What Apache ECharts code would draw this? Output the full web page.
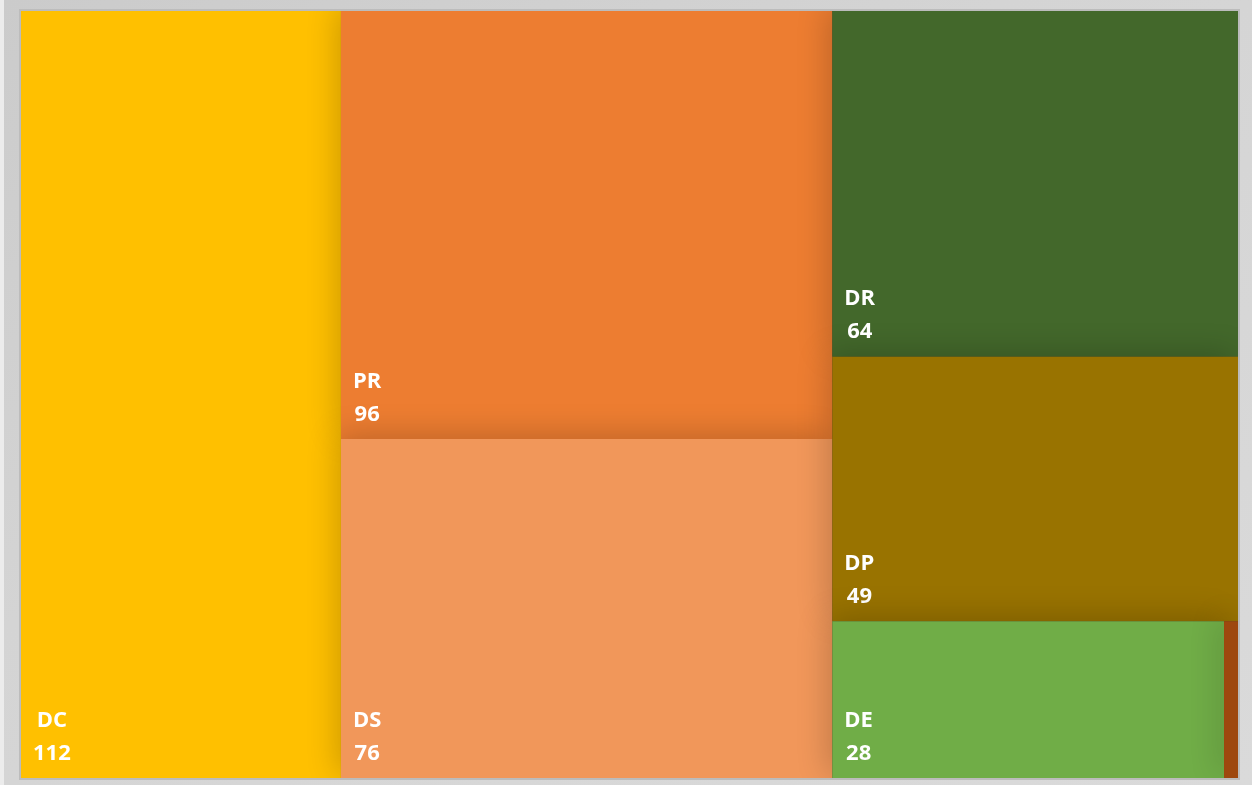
<!DOCTYPE html>
<html>
<head>
<meta charset="utf-8">
<script src="https://cdn.jsdelivr.net/npm/echarts@6/dist/echarts.min.js"></script>
<style>
  html, body { margin: 0; padding: 0; width: 1252px; height: 785px; overflow: hidden; background: #ececec; }
  #frame { position: absolute; left: 4px; top: 0; width: 1248px; height: 785px;
    background: linear-gradient(to bottom right, #cbcbcb, #d4d4d4 40%, #dadada); }
  #chart { position: absolute; left: 21px; top: 11px; width: 1217px; height: 767px;
    box-shadow: 0 0 0 2px #bcbcbc; background: #5a4a30; }
</style>
</head>
<body>
<div id="frame"></div>
<div id="chart"></div>
<script>
// Data
const names  = ['DC', 'PR', 'DS', 'DR', 'DP', 'DE', ''];
const values = [112, 96, 76, 64, 49, 28, 1];
const colors = ['#FFC000', '#ED7D31', '#F1975A', '#43682B', '#997300', '#70AD47', '#9E480E'];
// grouping of leaf indices into nested blocks (as in the original layout)
const groups = [0, [1, 2], [3, 4, [5, 6]]];

const LABEL_FONT = 'bold 22px "Open Sans"';
const measureCtx = document.createElement('canvas').getContext('2d');
measureCtx.font = LABEL_FONT;
function textW(s) { return measureCtx.measureText(String(s)).width; }

function leaf(i) {
  const w = Math.max(textW(names[i]), textW(values[i]));
  return {
    name: names[i],
    value: values[i],
    itemStyle: {
      color: colors[i],
      borderWidth: 0,
      borderColor: 'transparent',
      shadowColor: 'rgba(0,0,0,0.2)',
      shadowBlur: 30,
      shadowOffsetX: -4,
      shadowOffsetY: -4
    },
    label: { show: names[i] !== '', align: 'center', offset: [12 + w / 2, 0] }
  };
}
function build(g) {
  if (typeof g === 'number') return leaf(g);
  const children = g.map(build);
  const sum = children.reduce((s, c) => s + c.value, 0);
  return { name: '', value: sum, children: children,
    itemStyle: { color: 'transparent', borderWidth: 0, gapWidth: 0, borderColor: 'transparent' },
    label: { show: false } };
}
const data = groups.map(build);

const chart = echarts.init(document.getElementById('chart'));
chart.setOption({
  animation: false,
  series: [{
    type: 'treemap',
    left: 0, top: 0, right: 0, bottom: 0,
    width: '100%', height: '100%',
    roam: false,
    nodeClick: false,
    sort: false,
    squareRatio: 1,
    breadcrumb: { show: false },
    visibleMin: 0,
    itemStyle: { borderWidth: 0, gapWidth: 0, borderColor: 'transparent' },
    upperLabel: { show: false },
    label: {
      show: true,
      position: 'insideBottomLeft',
      distance: 0,
      padding: [0, 0, 8, 0],
      formatter: p => p.name + '\n' + p.value,
      color: '#ffffff',
      fontFamily: 'Open Sans',
      fontWeight: 'bold',
      fontSize: 22,
      lineHeight: 33
    },
    levels: [
      { itemStyle: { borderWidth: 0, gapWidth: 0, borderColor: 'transparent' } },
      { itemStyle: { borderWidth: 0, gapWidth: 0, borderColor: 'transparent' } },
      { itemStyle: { borderWidth: 0, gapWidth: 0, borderColor: 'transparent' } },
      { itemStyle: { borderWidth: 0, gapWidth: 0, borderColor: 'transparent' } }
    ],
    data: data
  }]
});
</script>
</body>
</html>
